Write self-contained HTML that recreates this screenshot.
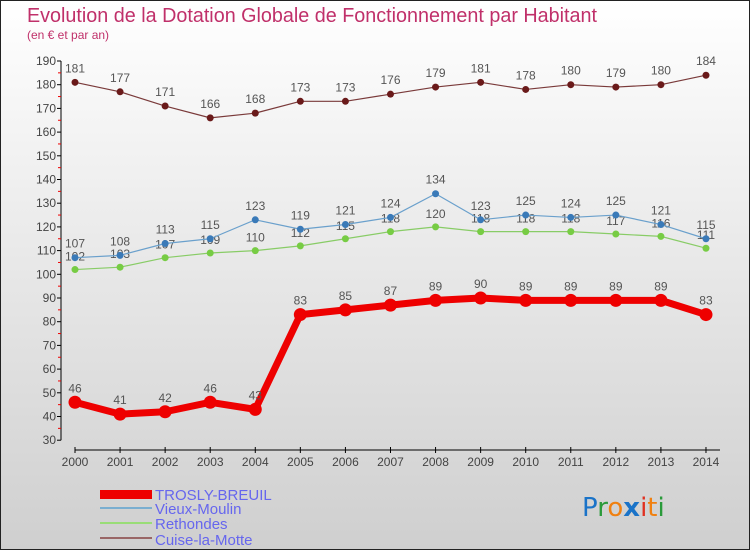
<!DOCTYPE html>
<html><head><meta charset="utf-8"><style>
body{margin:0;}
#c{width:750px;height:550px;position:relative;box-sizing:border-box;border:1px solid #222;background:linear-gradient(#ffffff,#cfcfcf);font-family:"Liberation Sans",sans-serif;overflow:hidden}
</style></head><body>
<div id="c">
<svg id="s" width="750" height="550" style="position:absolute;left:-1px;top:-1px">
<text x="27" y="22" font-size="20" fill="#c0306a" textLength="570" lengthAdjust="spacingAndGlyphs">Evolution de la Dotation Globale de Fonctionnement par Habitant</text>
<text x="27" y="39" font-size="12" fill="#c0306a">(en € et par an)</text>
<g id="g"></g>
<g>
<rect x="100" y="490" width="52" height="9" fill="#e00"/>
<text x="155" y="500" font-size="15" fill="#6666ee">TROSLY-BREUIL</text>
<rect x="100" y="507" width="52" height="2" fill="#7aaed0"/>
<text x="155" y="514" font-size="15" fill="#6666ee">Vieux-Moulin</text>
<rect x="100" y="522" width="52" height="2" fill="#99dd77"/>
<text x="155" y="529" font-size="15" fill="#6666ee">Rethondes</text>
<rect x="100" y="537" width="52" height="2" fill="#996666"/>
<text x="155" y="545" font-size="15" fill="#6666ee">Cuise-la-Motte</text>
</g>
<text x="582" y="516" font-size="26" font-family="DejaVu Sans,sans-serif"><tspan fill="#1a73c8">P</tspan><tspan fill="#2a9a3a">r</tspan><tspan fill="#f08010">o</tspan><tspan fill="#1a73c8" font-weight="bold">x</tspan><tspan fill="#e03020">i</tspan><tspan fill="#f08010">t</tspan><tspan fill="#2a9a3a">i</tspan></text>
</svg>
</div>
<script>
const years=[2000,2001,2002,2003,2004,2005,2006,2007,2008,2009,2010,2011,2012,2013,2014];
const yTicks=[30,40,50,60,70,80,90,100,110,120,130,140,150,160,170,180,190];
const trosly=[46,41,42,46,43,83,85,87,89,90,89,89,89,89,83];
const vieux=[107,108,113,115,123,119,121,124,134,123,125,124,125,121,115];
const rethondes=[102,103,107,109,110,112,115,118,120,118,118,118,117,116,111];
const cuise=[181,177,171,166,168,173,173,176,179,181,178,180,179,180,184];
const NS="http://www.w3.org/2000/svg";
const g=document.getElementById('g');
function X(i){return 75+i*45.07;}
function Y(v){return 61+(190-v)*2.37;}
function el(t,a,name){const e=document.createElementNS(NS,t);for(const k in a)e.setAttribute(k,a[k]);


g.appendChild(e);return e;}
el('line',{x1:61,y1:Y(190),x2:61,y2:Y(30),stroke:'#000','stroke-width':1},'y-axis');
yTicks.forEach(v=>{el('line',{x1:57,y1:Y(v),x2:61,y2:Y(v),stroke:'#000'},'y-tick');
const t=el('text',{x:56,y:Y(v)+4,'font-size':12,fill:'#444','text-anchor':'end'},'y-tick-label');t.textContent=v;
if(v<190)el('line',{x1:58,y1:Y(v+5),x2:61,y2:Y(v+5),stroke:'#e00'},'y-minor-tick');});
el('line',{x1:X(0),y1:450,x2:720,y2:450,stroke:'#000'},'x-axis');
years.forEach((yr,i)=>{el('line',{x1:X(i),y1:447,x2:X(i),y2:453,stroke:'#000'},'x-tick');
const t=el('text',{x:X(i),y:466,'font-size':12,fill:'#444','text-anchor':'middle'},'x-tick-label');t.textContent=yr;});
function series(d,col,dot,w,r,name,lblOff){
el('polyline',{points:d.map((v,i)=>X(i)+','+Y(v)).join(' '),fill:'none',stroke:col,'stroke-width':w,'stroke-linejoin':'round'},name+'-line');
d.forEach((v,i)=>{el('circle',{cx:X(i),cy:Y(v),r:r,fill:dot},name+'-point');
const t=el('text',{x:X(i),y:Y(v)+lblOff,'font-size':12,fill:'#555','text-anchor':'middle'},name+'-value-label');t.textContent=v;});}
series(cuise,'#7a3a3a','#6a1a1a',1.2,3.5,'cuise',-10);
series(rethondes,'#88cc66','#77cc44',1.2,3.5,'rethondes',-9);
series(vieux,'#6aa0cc','#3a7ab8',1.2,3.5,'vieux',-10);
series(trosly,'#ee0000','#ee0000',7,6.5,'trosly',-10);
</script>
</body></html>
